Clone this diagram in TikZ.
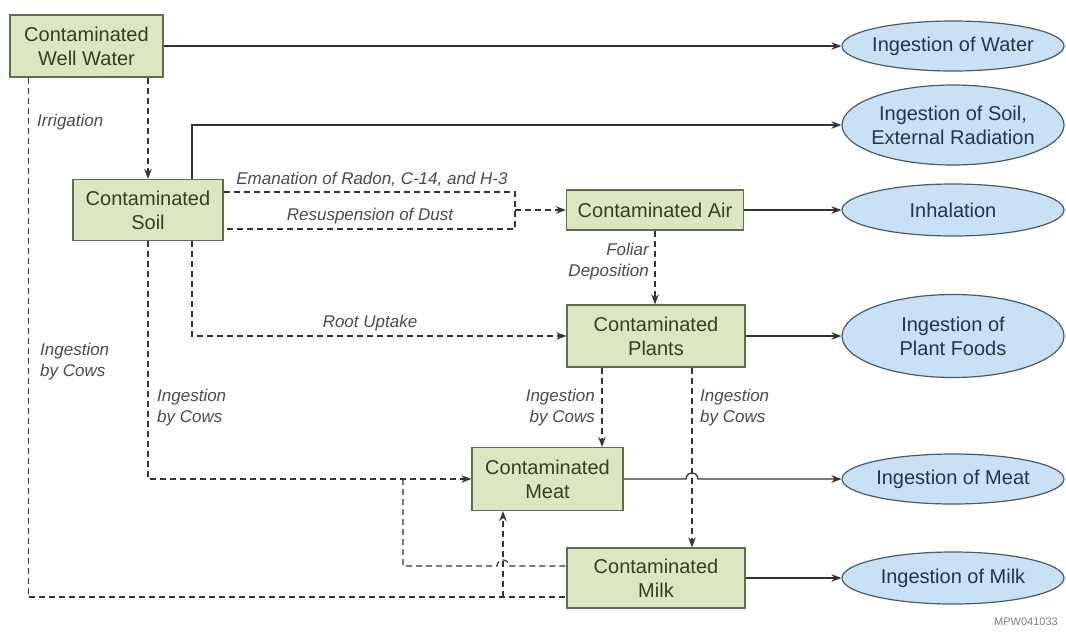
\documentclass[tikz,border=0pt]{standalone}
\usepackage{fontspec}
\setmainfont{Liberation Sans}
\usetikzlibrary{arrows.meta,shapes.geometric,calc}
\definecolor{boxfill}{HTML}{DCE7C1}
\definecolor{boxdraw}{HTML}{5E6E50}
\definecolor{boxtext}{HTML}{2C4220}
\definecolor{ellfill}{HTML}{C8E1F4}
\definecolor{elldraw}{HTML}{4D5A66}
\definecolor{elltext}{HTML}{22344F}
\definecolor{linecol}{HTML}{333333}
\definecolor{labelcol}{HTML}{4A4A4A}

\tikzset{
  srcbox/.style={rectangle, draw=boxdraw, fill=boxfill, line width=1.3pt, inner sep=0pt,
    align=center, text=boxtext, font=\fontsize{20}{24}\selectfont},
  pathway/.style={ellipse, draw=elldraw, fill=ellfill, line width=1.2pt,
    inner xsep=-30pt, inner ysep=0pt,
    align=center, text=elltext, minimum width=222pt, font=\fontsize{20}{24}\selectfont},
  flow/.style={draw=linecol, line width=1.3pt, -{Stealth[length=10pt,width=7.5pt]}},
  feed/.style={flow, dash pattern=on 6pt off 4pt},
  feedline/.style={draw=linecol, line width=1.2pt, dash pattern=on 6pt off 4pt},
  lbl/.style={font=\fontsize{17}{21}\selectfont\itshape, text=labelcol, inner sep=0pt},
}

\begin{document}
\begin{tikzpicture}[x=1pt,y=-1pt]
\useasboundingbox (0,0) rectangle (1066,633);

% contaminated media
\node[srcbox, minimum width=153pt, minimum height=62pt] (well) at (86.5,46) {Contaminated\\Well Water};
\node[srcbox, minimum width=150pt, minimum height=61pt] (soil) at (148,210) {Contaminated\\Soil};
\node[srcbox, minimum width=177pt, minimum height=40pt] (air) at (655,210) {Contaminated Air};
\node[srcbox, minimum width=178pt, minimum height=62pt] (plants) at (656,336) {Contaminated\\Plants};
\node[srcbox, minimum width=151pt, minimum height=63pt] (meat) at (547.5,479) {Contaminated\\Meat};
\node[srcbox, minimum width=178pt, minimum height=60pt] (milk) at (656,578) {Contaminated\\Milk};

% exposure pathways
\node[pathway, minimum height=50pt] (water) at (953,46) {Ingestion of Water};
\node[pathway, minimum height=80pt] (esoil) at (953,125) {Ingestion of Soil,\\External Radiation};
\node[pathway, minimum height=52pt] (inhal) at (953,210) {Inhalation};
\node[pathway, minimum height=83pt] (plantfood) at (953,336) {Ingestion of\\Plant Foods};
\node[pathway, minimum height=50pt] (meatfood) at (953,479) {Ingestion of Meat};
\node[pathway, minimum height=52pt] (milkfood) at (953,578) {Ingestion of Milk};

% helper points
\coordinate (pmeat) at ($(plants.south)+(-54,0)$);
\coordinate (pmilk) at ($(plants.south)+(36,0)$);
\coordinate (wleft) at ($(well.south west)+(19,0)$);
\coordinate (cowbus) at (503,597);
\coordinate (soilbranch) at (403,479);
\coordinate (airjoin) at (515,210);

% direct exposure
\draw[flow] (well.east) -- (water.west);
\draw[flow] ($(soil.north)+(44,0)$) |- (esoil.west);
\draw[flow] (air.east) -- (inhal.west);
\draw[flow] (plants.east) -- (plantfood.west);
\draw[flow] (meat.east) -- ($(meat.east -| pmilk)+(-6,0)$)
  arc[start angle=180, end angle=0, radius=6pt] -- (meatfood.west);
\draw[flow] (milk.east) -- (milkfood.west);

% transfer between media
\draw[feed] (well.south -| soil.north) -- (soil.north);
\draw[feedline] (wleft) |- ($(milk.west)+(0,19)$);
\draw[feed] (cowbus) -- (cowbus |- meat.south);
\draw[feed] (soil.south) |- (meat.west);
\draw[feedline] (soilbranch) -- (403,566) -- (497,566)
  arc[start angle=180, end angle=0, radius=6pt] -- ($(milk.west)+(0,-12)$);
\draw[feed] ($(soil.south)+(44,0)$) |- (plants.west);
\draw[feedline] ($(soil.east)+(0,-18)$) -- ($(airjoin)+(0,-18)$) -- ($(airjoin)+(0,19)$) -- ($(soil.east)+(0,19)$);
\draw[feed] (airjoin) -- (air.west);
\draw[feed] (air.south) -- (air.south |- plants.north);
\draw[feed] (pmeat) -- (pmeat |- meat.north);
\draw[feed] (pmilk) -- (pmilk |- milk.north);

% pathway labels
\node[lbl, anchor=west] (lirr) at (37,122) {Irrigation};
\node[lbl] (lrad) at (372,179) {Emanation of Radon, C-14, and H-3};
\node[lbl] (ldust) at (370,216) {Resuspension of Dust};
\node[lbl, anchor=east, align=right] (lfol) at (649,262) {Foliar\\Deposition};
\node[lbl] (lroot) at (370,323) {Root Uptake};
\node[lbl, anchor=west, align=left] (lcow1) at (40,362) {Ingestion\\by Cows};
\node[lbl, anchor=west, align=left] (lcow2) at (157,408) {Ingestion\\by Cows};
\node[lbl, anchor=east, align=right] (lcow3) at (595,408) {Ingestion\\by Cows};
\node[lbl, anchor=west, align=left] (lcow4) at (700,408) {Ingestion\\by Cows};

\node[font=\fontsize{11}{13}\selectfont, text=gray, inner sep=0pt] (tag) at (1026,622) {MPW041033};
\end{tikzpicture}
\end{document}
